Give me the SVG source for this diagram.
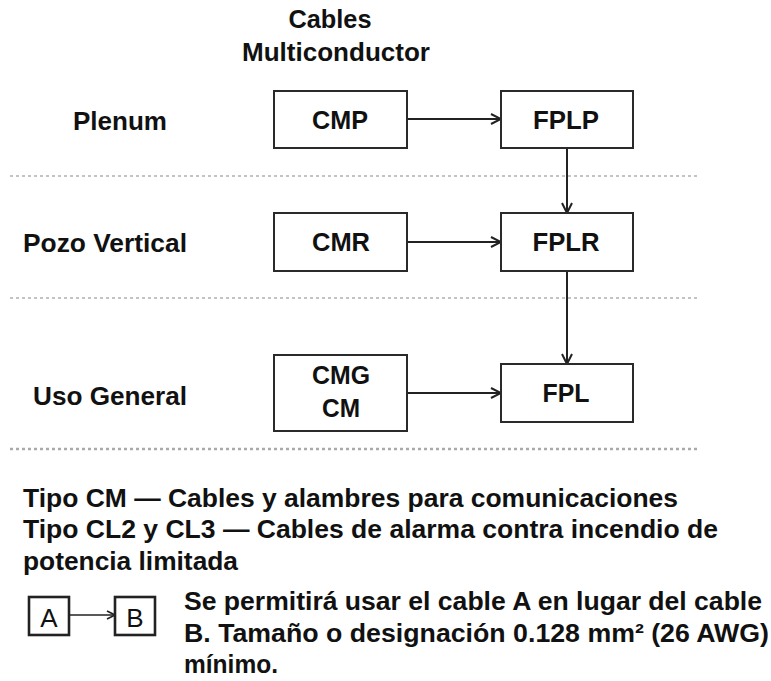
<svg xmlns="http://www.w3.org/2000/svg" width="771" height="681" viewBox="0 0 771 681">
<style>
text{font-family:"Liberation Sans",Arial,sans-serif;font-weight:bold;font-size:25px;fill:#111}
.box{fill:#fff;stroke:#2a2a2a;stroke-width:2}
.lbox{fill:#fff;stroke:#222;stroke-width:2.6}
.conn{stroke:#222;stroke-width:2;fill:none}
.sep{stroke:#888;stroke-width:1.2;stroke-dasharray:3 3;fill:none}
.sep2{stroke:#aaa;stroke-width:2.5;stroke-dasharray:3 3;fill:none}
.leg{font-weight:normal;font-size:26px}
.bx{font-size:26px}
</style>
<defs>
<marker id="arr" viewBox="0 0 12 12" refX="11" refY="6" markerWidth="12" markerHeight="12" markerUnits="userSpaceOnUse" orient="auto">
<path d="M1,1 L11,6 L1,11" fill="none" stroke="#222" stroke-width="2"/>
</marker>
<marker id="arrs" viewBox="0 0 10 10" refX="9" refY="5" markerWidth="10" markerHeight="10" markerUnits="userSpaceOnUse" orient="auto">
<path d="M1,1 L9,5 L1,9" fill="none" stroke="#222" stroke-width="1.6"/>
</marker>
</defs>

<g id="title">
<text x="330" y="28" text-anchor="middle" textLength="83" lengthAdjust="spacingAndGlyphs">Cables</text>
<text x="336" y="61" text-anchor="middle" textLength="188" lengthAdjust="spacingAndGlyphs">Multiconductor</text>
</g>

<g id="labels">
<text x="73" y="130" textLength="94" lengthAdjust="spacingAndGlyphs">Plenum</text>
<text x="23" y="252" textLength="164" lengthAdjust="spacingAndGlyphs">Pozo Vertical</text>
<text x="33" y="405" textLength="154" lengthAdjust="spacingAndGlyphs">Uso General</text>
</g>

<g id="separators">
<line class="sep" x1="10" y1="176" x2="700" y2="176"/>
<line class="sep" x1="10" y1="298" x2="700" y2="298"/>
<line class="sep2" x1="10" y1="449" x2="700" y2="449"/>
</g>

<g id="connectors">
<line class="conn" x1="407" y1="119" x2="501" y2="119" marker-end="url(#arr)"/>
<line class="conn" x1="407" y1="242" x2="501" y2="242" marker-end="url(#arr)"/>
<line class="conn" x1="407" y1="393" x2="501" y2="393" marker-end="url(#arr)"/>
<line class="conn" x1="567" y1="148" x2="567" y2="213" marker-end="url(#arr)"/>
<line class="conn" x1="567" y1="271" x2="567" y2="364" marker-end="url(#arr)"/>
</g>

<g id="CMP">
<rect class="box" x="274" y="91" width="133" height="57"/>
<text class="bx" x="340" y="129" text-anchor="middle" textLength="56" lengthAdjust="spacingAndGlyphs">CMP</text>
</g>
<g id="FPLP">
<rect class="box" x="501" y="91" width="132" height="57"/>
<text class="bx" x="566" y="129" text-anchor="middle" textLength="66" lengthAdjust="spacingAndGlyphs">FPLP</text>
</g>
<g id="CMR">
<rect class="box" x="274" y="213" width="133" height="58"/>
<text class="bx" x="341" y="251" text-anchor="middle" textLength="58" lengthAdjust="spacingAndGlyphs">CMR</text>
</g>
<g id="FPLR">
<rect class="box" x="501" y="213" width="132" height="58"/>
<text class="bx" x="566" y="251" text-anchor="middle" textLength="67" lengthAdjust="spacingAndGlyphs">FPLR</text>
</g>
<g id="CMG">
<rect class="box" x="274" y="355" width="133" height="76"/>
<text class="bx" x="341" y="384" text-anchor="middle" textLength="58" lengthAdjust="spacingAndGlyphs">CMG</text>
<text class="bx" x="341" y="417" text-anchor="middle" textLength="38" lengthAdjust="spacingAndGlyphs">CM</text>
</g>
<g id="FPL">
<rect class="box" x="501" y="364" width="132" height="58"/>
<text class="bx" x="566" y="402" text-anchor="middle" textLength="47" lengthAdjust="spacingAndGlyphs">FPL</text>
</g>

<g id="notes">
<text x="23" y="507" textLength="655" lengthAdjust="spacingAndGlyphs">Tipo CM — Cables y alambres para comunicaciones</text>
<text x="23" y="538" textLength="695" lengthAdjust="spacingAndGlyphs">Tipo CL2 y CL3 — Cables de alarma contra incendio de</text>
<text x="23" y="570" textLength="215" lengthAdjust="spacingAndGlyphs">potencia limitada</text>
</g>

<g id="legend">
<rect class="lbox" x="29" y="597" width="40" height="38"/>
<text class="leg" x="49" y="627" text-anchor="middle">A</text>
<rect class="lbox" x="115" y="597" width="40" height="38"/>
<text class="leg" x="135" y="627" text-anchor="middle">B</text>
<line x1="69" y1="615" x2="115" y2="615" stroke="#222" stroke-width="1.6" marker-end="url(#arrs)"/>
<text x="184" y="610" textLength="578" lengthAdjust="spacingAndGlyphs">Se permitirá usar el cable A en lugar del cable</text>
<text x="184" y="642" textLength="585" lengthAdjust="spacingAndGlyphs">B.  Tamaño o designación 0.128 mm² (26 AWG)</text>
<text x="184" y="673" textLength="94" lengthAdjust="spacingAndGlyphs">mínimo.</text>
</g>
</svg>
